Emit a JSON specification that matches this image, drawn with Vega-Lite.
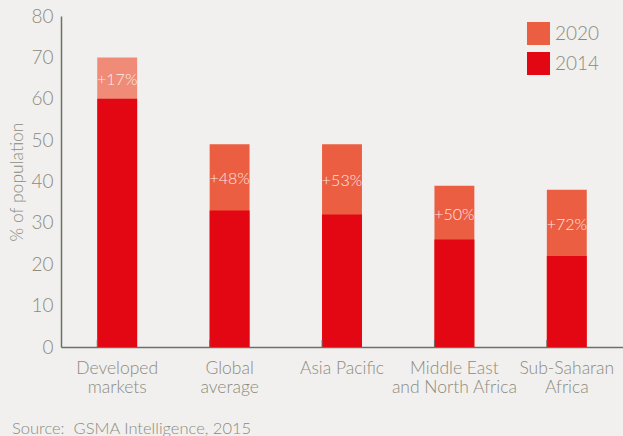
{
  "$schema": "https://vega.github.io/schema/vega-lite/v6.json",
  "width": 562,
  "height": 331,
  "autosize": {"type": "none"},
  "padding": {"left": 61, "top": 16, "right": 0, "bottom": 89},
  "background": "#f1f0ee",
  "config": {
    "view": {"stroke": null},
    "font": "Lato",
    "text": {"font": "Lato"}
  },
  "title": {
    "text": "Source:\u00a0 GSMA Intelligence, 2015",
    "orient": "bottom",
    "anchor": "start",
    "frame": "group",
    "dx": -49,
    "offset": 25,
    "fontSize": 16.5,
    "fontWeight": 300,
    "color": "#8c8b80",
    "font": "Lato"
  },
  "data": {
    "values": [
      {"region": "Developed|markets", "year": "2020", "value": 70, "growth": "+17%"},
      {"region": "Global|average", "year": "2020", "value": 49, "growth": "+48%"},
      {"region": "Asia Pacific", "year": "2020", "value": 49, "growth": "+53%"},
      {"region": "Middle East|and North Africa", "year": "2020", "value": 39, "growth": "+50%"},
      {"region": "Sub-Saharan|Africa", "year": "2020", "value": 38, "growth": "+72%"},
      {"region": "Developed|markets", "year": "2014", "value": 60, "growth": "+17%"},
      {"region": "Global|average", "year": "2014", "value": 33, "growth": "+48%"},
      {"region": "Asia Pacific", "year": "2014", "value": 32, "growth": "+53%"},
      {"region": "Middle East|and North Africa", "year": "2014", "value": 26, "growth": "+50%"},
      {"region": "Sub-Saharan|Africa", "year": "2014", "value": 22, "growth": "+72%"}
    ]
  },
  "encoding": {
    "x": {
      "field": "region",
      "type": "nominal",
      "sort": null,
      "scale": {"paddingInner": 0.645, "paddingOuter": 0.3225},
      "axis": {
        "title": null,
        "labelExpr": "split(datum.label, '|')",
        "labelAngle": 0,
        "labelFontSize": 17.5,
        "labelFontWeight": 300,
        "labelColor": "#8c8b80",
        "labelPadding": 12,
        "labelLineHeight": 19,
        "domainColor": "#6f6f68",
        "domainWidth": 1.5,
        "ticks": false
      }
    }
  },
  "layer": [
    {
      "mark": {"type": "bar"},
      "encoding": {
        "y": {
          "field": "value",
          "type": "quantitative",
          "stack": null,
          "scale": {"domain": [0, 80]},
          "axis": {
            "title": "% of population",
            "titleFontSize": 17.5,
            "titleFontWeight": 300,
            "titleColor": "#8c8b80",
            "titlePadding": 4,
            "values": [0, 10, 20, 30, 40, 50, 60, 70, 80],
            "labelFontSize": 19,
            "labelFontWeight": 300,
            "labelColor": "#8c8b80",
            "labelPadding": 8,
            "ticks": false,
            "grid": false,
            "domainColor": "#6f6f68",
            "domainWidth": 1.5
          }
        },
        "order": {"field": "year", "sort": "descending"},
        "color": {
          "condition": {
            "test": "datum.region === 'Developed|markets' && datum.year === '2020'",
            "value": "#ef8b77"
          },
          "field": "year",
          "type": "nominal",
          "scale": {"domain": ["2020", "2014"], "range": ["#eb5e41", "#e30613"]},
          "legend": {
            "title": null,
            "orient": "none",
            "legendX": 466,
            "legendY": 6,
            "symbolType": "square",
            "symbolSize": 529,
            "symbolStrokeWidth": 0,
            "labelFontSize": 19,
            "labelFontWeight": 300,
            "labelColor": "#8c8b80",
            "labelOffset": 5,
            "rowPadding": 7
          }
        }
      }
    },
    {
      "transform": [{"filter": "datum.year === '2014'"}],
      "mark": {"type": "rule", "color": "#6f6f68", "strokeWidth": 1},
      "encoding": {
        "x": {"field": "region", "type": "nominal", "sort": null, "bandPosition": 0},
        "y": {"datum": 0},
        "y2": {"datum": 1.7}
      }
    },
    {
      "transform": [
        {"pivot": "year", "value": "value", "groupby": ["region", "growth"]},
        {"calculate": "(datum['2014'] + datum['2020']) / 2", "as": "mid"}
      ],
      "mark": {
        "type": "text",
        "fontSize": 16,
        "fontWeight": 300,
        "color": "#ffffff",
        "opacity": 0.85,
        "baseline": "middle",
        "dy": 2
      },
      "encoding": {
        "y": {"field": "mid", "type": "quantitative"},
        "text": {"field": "growth"}
      }
    }
  ]
}
